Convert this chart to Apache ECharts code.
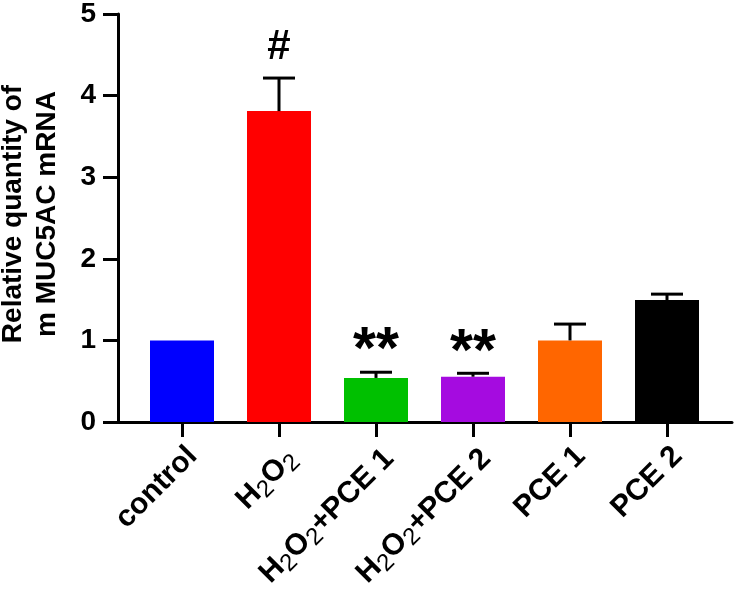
<!DOCTYPE html>
<html><head><meta charset="utf-8">
<script src="https://cdn.jsdelivr.net/npm/echarts@6/dist/echarts.min.js"></script>
<style>html,body{margin:0;padding:0;background:#fff}#c{width:735px;height:596px}</style>
</head><body><div id="c"></div>
<script>
const categories = ['control', 'H2O2', 'H2O2+PCE 1', 'H2O2+PCE 2', 'PCE 1', 'PCE 2'];
const categoryLabels = ['control', 'H{sub|2}O{sub|2}', 'H{sub|2}O{sub|2}+PCE 1', 'H{sub|2}O{sub|2}+PCE 2', 'PCE 1', 'PCE 2'];
const means = [1.00, 3.81, 0.54, 0.555, 1.00, 1.495];
const errors = [0, 0.405, 0.07, 0.042, 0.20, 0.072];
const annotations = ['', '#', '**', '**', '', ''];
const barColors = ['#0000FF', '#FF0000', '#00C000', '#A50BE0', '#FF6600', '#000000'];
const yMin = 0, yMax = 5, yStep = 1;
const yTitle = ['Relative quantity of', 'm MUC5AC mRNA'];

const FONT = '"Liberation Sans", Arial, sans-serif';
const chart = echarts.init(document.getElementById('c'), null, {renderer: 'canvas'});

const option = {
  backgroundColor: '#fff',
  animation: false,
  grid: [
    {left: 118, right: 3, top: 14, bottom: 174, containLabel: false, outerBoundsMode: 'none'},
    {left: 133.5, right: 19.5, top: 14, bottom: 174, containLabel: false, outerBoundsMode: 'none'}
  ],
  xAxis: [
    {
      type: 'category', gridIndex: 0, data: categories,
      axisLine: {show: true, lineStyle: {color: '#000', width: 3}},
      axisTick: {show: false}, axisLabel: {show: false}, splitLine: {show: false}
    },
    {
      type: 'category', gridIndex: 1, data: categories,
      axisLine: {show: false},
      axisTick: {show: true, alignWithLabel: true, length: 15, lineStyle: {color: '#000', width: 3}},
      axisLabel: {
        show: true, rotate: 45, margin: 19, interval: 0,
        color: '#000', fontFamily: FONT, fontWeight: 'bold', fontSize: 30,
        verticalAlign: 'top',
        formatter: (v, i) => categoryLabels[i],
        rich: {
          sub: {fontFamily: FONT, fontSize: 24, fontWeight: 'normal', color: '#000', verticalAlign: 'bottom', padding: [13, 0, 0, 0]}
        }
      },
      splitLine: {show: false}
    }
  ],
  yAxis: [
    {
      type: 'value', gridIndex: 0, min: yMin, max: yMax, interval: yStep,
      axisLine: {show: true, lineStyle: {color: '#000', width: 3}},
      axisTick: {show: true, length: 15, lineStyle: {color: '#000', width: 3}},
      axisLabel: {color: '#000', fontFamily: FONT, fontWeight: 'bold', fontSize: 28, margin: 22},
      splitLine: {show: false}
    },
    {
      type: 'value', gridIndex: 1, min: yMin, max: yMax, interval: yStep, show: false,
      splitLine: {show: false}
    }
  ],
  graphic: [{
    type: 'text', x: 30, y: 214, rotation: Math.PI / 2,
    style: {
      text: yTitle.join('\n'), fill: '#000', font: 'bold 28px ' + FONT,
      align: 'center', verticalAlign: 'middle', lineHeight: 34
    }
  }],
  series: [
    {
      type: 'bar', xAxisIndex: 1, yAxisIndex: 1, barWidth: 64,
      data: means.map((m, i) => ({value: m, itemStyle: {color: barColors[i]}})),
      z: 2
    },
    {
      type: 'custom', xAxisIndex: 1, yAxisIndex: 1, z: 3,
      data: means.map((m, i) => [i, m, errors[i]]),
      renderItem: function (params, api) {
        const i = api.value(0), m = api.value(1), e = api.value(2);
        const base = api.coord([i, m]);
        const top = api.coord([i, m + e]);
        const half = 16;
        const children = [];
        if (e > 0) {
          children.push({type: 'line', shape: {x1: base[0], y1: base[1], x2: top[0], y2: top[1]}, style: {stroke: '#000', lineWidth: 3}});
          children.push({type: 'line', shape: {x1: top[0] - half, y1: top[1], x2: top[0] + half, y2: top[1]}, style: {stroke: '#000', lineWidth: 3}});
        }
        const ann = annotations[params.dataIndex];
        if (ann === '#') {
          children.push({type: 'text', x: top[0], y: top[1] - 31, style: {text: ann, fill: '#000', font: 'bold 42px ' + FONT, align: 'center', verticalAlign: 'middle'}});
        } else if (ann) {
          children.push({type: 'text', x: top[0], y: top[1] - 20, style: {text: ann, fill: '#000', font: 'bold 59px ' + FONT, align: 'center', verticalAlign: 'middle'}});
        }
        return {type: 'group', children: children};
      }
    }
  ]
};
chart.setOption(option);
</script>
</body></html>
